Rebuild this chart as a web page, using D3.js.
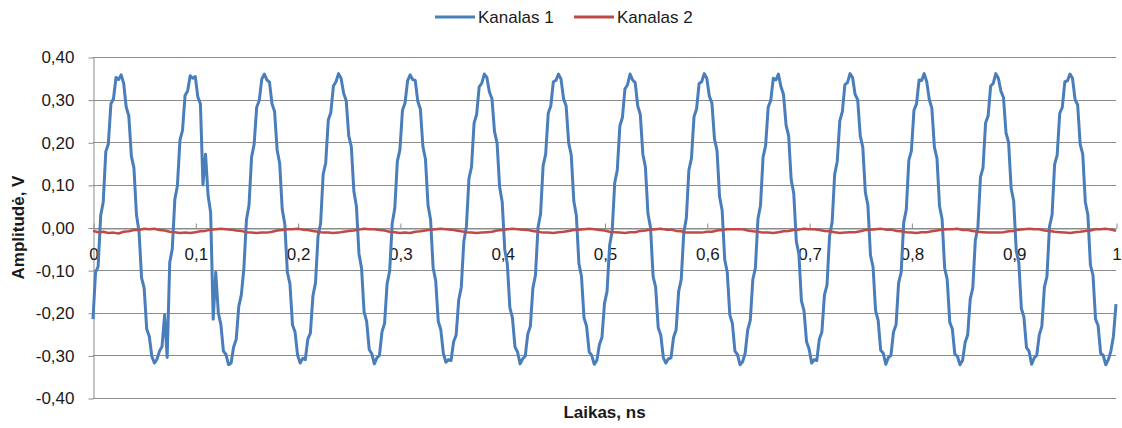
<!DOCTYPE html>
<html>
<head>
<meta charset="utf-8">
<script src="https://cdn.jsdelivr.net/npm/d3@7"></script>
<style>
    body { margin: 0; background: #fff; }
    text { font-family: "Liberation Sans", Arial, sans-serif; fill: #1a1a1a; }
</style>
</head>
<body>
<svg id="chart" width="1122" height="428"></svg>
<script>
// series names and axis ticks
var seriesNames = ["Kanalas 1", "Kanalas 2"];
var xTicks = [0, 0.1, 0.2, 0.3, 0.4, 0.5, 0.6, 0.7, 0.8, 0.9, 1];
var yTicks = [-0.4, -0.3, -0.2, -0.1, 0, 0.1, 0.2, 0.3, 0.4];

var kanalas1Step = 0.0025;
var kanalas1 = [
    -0.215, -0.105, -0.092, 0.028, 0.060, 0.178, 0.196, 0.290, 0.302, 0.352,
    0.347, 0.358, 0.338, 0.282, 0.262, 0.168, 0.140, 0.030, -0.010, -0.118,
    -0.142, -0.238, -0.255, -0.302, -0.318, -0.309, -0.290, -0.279, -0.205, -0.305,
    -0.082, -0.050, 0.066, 0.098, 0.205, 0.228, 0.310, 0.320, 0.356, 0.350,
    0.354, 0.306, 0.290, 0.100, 0.172, 0.075, 0.035, -0.215, -0.105, -0.200,
    -0.228, -0.290, -0.298, -0.322, -0.318, -0.280, -0.262, -0.185, -0.158, -0.095,
    0.018, 0.052, 0.165, 0.195, 0.282, 0.298, 0.348, 0.360, 0.346, 0.341,
    0.290, 0.272, 0.182, 0.150, 0.042, 0.008, -0.105, -0.132, -0.228, -0.245,
    -0.300, -0.318, -0.307, -0.310, -0.262, -0.248, -0.160, -0.130, -0.020, 0.010,
    0.125, 0.152, 0.252, 0.270, 0.332, 0.342, 0.361, 0.350, 0.315, 0.298,
    0.215, 0.190, 0.085, 0.050, -0.062, -0.095, -0.198, -0.220, -0.286, -0.296,
    -0.320, -0.306, -0.300, -0.245, -0.225, -0.132, -0.102, 0.010, 0.045, 0.155,
    0.182, 0.275, 0.292, 0.344, 0.358, 0.347, 0.345, 0.296, 0.278, 0.190,
    0.160, 0.052, 0.018, -0.095, -0.125, -0.220, -0.240, -0.296, -0.316, -0.310,
    -0.312, -0.268, -0.252, -0.170, -0.140, -0.032, 0.002, 0.115, 0.142, 0.245,
    0.265, 0.330, 0.338, 0.360, 0.352, 0.318, 0.302, 0.225, 0.198, 0.095,
    0.060, -0.052, -0.085, -0.188, -0.212, -0.280, -0.292, -0.320, -0.308, -0.302,
    -0.250, -0.232, -0.142, -0.112, 0.000, 0.032, 0.145, 0.172, 0.268, 0.285,
    0.342, 0.345, 0.360, 0.348, 0.302, 0.285, 0.198, 0.170, 0.062, 0.028,
    -0.085, -0.115, -0.212, -0.232, -0.292, -0.300, -0.321, -0.312, -0.275, -0.258,
    -0.178, -0.150, -0.042, -0.008, 0.105, 0.135, 0.238, 0.258, 0.325, 0.335,
    0.360, 0.346, 0.340, 0.285, 0.265, 0.172, 0.142, 0.032, 0.000, -0.115,
    -0.140, -0.235, -0.252, -0.305, -0.318, -0.308, -0.306, -0.258, -0.240, -0.150,
    -0.122, -0.012, 0.022, 0.135, 0.162, 0.260, 0.278, 0.338, 0.342, 0.361,
    0.350, 0.308, 0.292, 0.208, 0.180, 0.072, 0.040, -0.075, -0.105, -0.205,
    -0.225, -0.290, -0.298, -0.322, -0.315, -0.295, -0.240, -0.218, -0.122, -0.095,
    0.020, 0.052, 0.165, 0.192, 0.282, 0.298, 0.350, 0.346, 0.360, 0.330,
    0.312, 0.240, 0.215, 0.112, 0.080, -0.032, -0.062, -0.172, -0.195, -0.268,
    -0.285, -0.318, -0.310, -0.312, -0.262, -0.245, -0.158, -0.135, -0.020, 0.012,
    0.125, 0.155, 0.250, 0.272, 0.335, 0.340, 0.361, 0.352, 0.312, 0.300,
    0.215, 0.188, 0.082, 0.052, -0.065, -0.092, -0.195, -0.218, -0.288, -0.295,
    -0.321, -0.305, -0.300, -0.245, -0.228, -0.130, -0.105, 0.012, 0.042, 0.158,
    0.180, 0.275, 0.290, 0.346, 0.345, 0.361, 0.342, 0.300, 0.280, 0.188,
    0.162, 0.050, 0.020, -0.095, -0.122, -0.222, -0.238, -0.298, -0.302, -0.322,
    -0.312, -0.270, -0.252, -0.168, -0.142, -0.030, 0.000, 0.118, 0.140, 0.245,
    0.262, 0.332, 0.338, 0.361, 0.350, 0.320, 0.305, 0.222, 0.200, 0.092,
    0.062, -0.055, -0.082, -0.190, -0.210, -0.282, -0.290, -0.321, -0.306, -0.300,
    -0.252, -0.232, -0.140, -0.115, 0.002, 0.030, 0.148, 0.170, 0.268, 0.282,
    0.342, 0.344, 0.360, 0.350, 0.300, 0.288, 0.195, 0.172, 0.060, 0.030,
    -0.088, -0.112, -0.215, -0.230, -0.295, -0.300, -0.322, -0.310, -0.290, -0.255,
    -0.180
];

// Kanalas 2, sampled every 0.005 ns
var kanalas2Step = 0.005;
var kanalas2 = [
    -0.008, -0.011, -0.010, -0.013, -0.012, -0.014, -0.010, -0.009, -0.006, -0.006,
    -0.003, -0.004, -0.003, -0.006, -0.007, -0.010, -0.011, -0.013, -0.012, -0.013,
    -0.011, -0.009, -0.008, -0.005, -0.004, -0.003, -0.004, -0.005, -0.007, -0.008,
    -0.011, -0.012, -0.013, -0.012, -0.012, -0.010, -0.007, -0.006, -0.004, -0.004,
    -0.003, -0.005, -0.006, -0.008, -0.010, -0.012, -0.012, -0.013, -0.012, -0.010,
    -0.008, -0.007, -0.005, -0.003, -0.004, -0.004, -0.006, -0.007, -0.010, -0.011,
    -0.013, -0.012, -0.013, -0.010, -0.009, -0.007, -0.005, -0.004, -0.003, -0.004,
    -0.005, -0.007, -0.009, -0.011, -0.012, -0.013, -0.012, -0.011, -0.010, -0.007,
    -0.006, -0.004, -0.003, -0.004, -0.005, -0.006, -0.008, -0.010, -0.012, -0.012,
    -0.013, -0.011, -0.010, -0.008, -0.006, -0.005, -0.004, -0.003, -0.004, -0.006,
    -0.007, -0.010, -0.011, -0.012, -0.013, -0.011, -0.011, -0.008, -0.007, -0.005,
    -0.004, -0.003, -0.005, -0.005, -0.008, -0.009, -0.012, -0.012, -0.012, -0.012,
    -0.010, -0.010, -0.007, -0.006, -0.004, -0.004, -0.004, -0.004, -0.007, -0.009,
    -0.010, -0.012, -0.012, -0.013, -0.011, -0.009, -0.008, -0.006, -0.005, -0.003,
    -0.004, -0.004, -0.006, -0.008, -0.009, -0.011, -0.013, -0.012, -0.011, -0.011,
    -0.009, -0.006, -0.005, -0.004, -0.003, -0.005, -0.005, -0.008, -0.009, -0.011,
    -0.012, -0.013, -0.011, -0.011, -0.009, -0.007, -0.005, -0.004, -0.004, -0.003,
    -0.006, -0.006, -0.008, -0.010, -0.011, -0.012, -0.012, -0.012, -0.011, -0.009,
    -0.008, -0.005, -0.004, -0.003, -0.004, -0.004, -0.007, -0.008, -0.010, -0.011,
    -0.012, -0.013, -0.011, -0.010, -0.008, -0.007, -0.004, -0.004, -0.003, -0.005,
    -0.008
];

var colors = ["#4a7ebb", "#be4b48"];

var svg = d3.select("#chart"),
    margin = { left: 93, right: 6, top: 57, bottom: 30 },
    width = 1122 - margin.left - margin.right,
    height = 428 - margin.top - margin.bottom;

var locale = d3.formatLocale({
    decimal: ",",
    thousands: " ",
    grouping: [3],
    currency: ["", ""],
    minus: "-"
});

var x = d3.scaleLinear().domain([0, 1]).range([margin.left, margin.left + width]);
var y = d3.scaleLinear().domain([-0.4, 0.4]).range([margin.top + height, margin.top]);

// gridlines
svg.append("g")
    .selectAll("line")
    .data(yTicks)
    .enter().append("line")
    .attr("x1", margin.left)
    .attr("x2", margin.left + width)
    .attr("y1", function (d) { return Math.round(y(d)) + 0.5; })
    .attr("y2", function (d) { return Math.round(y(d)) + 0.5; })
    .style("stroke", "#8c8c8c")
    .style("stroke-width", 1);

// y axis
var yAxis = svg.append("g")
    .attr("transform", "translate(" + (margin.left + 0.5) + ",0.5)")
    .call(d3.axisLeft(y)
        .tickValues(yTicks)
        .tickSizeInner(5)
        .tickSizeOuter(0)
        .tickPadding(14)
        .tickFormat(locale.format(".2f")));
yAxis.selectAll("path, line").style("stroke", "#8c8c8c");
yAxis.selectAll("text").style("font-size", "17px").style("fill", "#1a1a1a")
    .attr("font-family", null);

// x axis through zero
var xAxis = svg.append("g")
    .attr("transform", "translate(0.5," + (Math.round(y(0)) + 0.5) + ")")
    .call(d3.axisBottom(x)
        .tickValues(xTicks)
        .tickSizeInner(-5)
        .tickSizeOuter(0)
        .tickPadding(19)
        .tickFormat(locale.format(".1~f")));
xAxis.selectAll("path, line").style("stroke", "#8c8c8c");
xAxis.selectAll("text").style("font-size", "17px").style("fill", "#1a1a1a")
    .attr("font-family", null);

// series
var line1 = d3.line()
    .x(function (d, i) { return x(i * kanalas1Step); })
    .y(function (d) { return y(d); });

var line2 = d3.line()
    .x(function (d, i) { return x(i * kanalas2Step); })
    .y(function (d) { return y(d); });

svg.append("path")
    .datum(kanalas1)
    .attr("d", line1)
    .style("fill", "none")
    .style("stroke", colors[0])
    .style("stroke-width", 3)
    .style("stroke-linejoin", "round");

svg.append("path")
    .datum(kanalas2)
    .attr("d", line2)
    .style("fill", "none")
    .style("stroke", colors[1])
    .style("stroke-width", 2.5)
    .style("stroke-linejoin", "round");

// legend
var legendX = [435, 574];
var legend = svg.append("g")
    .selectAll("g")
    .data(seriesNames)
    .enter().append("g")
    .attr("transform", function (d, i) { return "translate(" + legendX[i] + ",17)"; });

legend.append("line")
    .attr("x1", 0)
    .attr("x2", 40)
    .style("stroke", function (d, i) { return colors[i]; })
    .style("stroke-width", 3);

legend.append("text")
    .attr("x", 43)
    .attr("y", 6)
    .style("font-size", "17px")
    .text(function (d) { return d; });

// axis titles
svg.append("text")
    .attr("transform", "translate(24," + y(0) + ") rotate(-90)")
    .attr("text-anchor", "middle")
    .style("font-size", "17px")
    .style("font-weight", "bold")
    .text("Amplitudė, V");

svg.append("text")
    .attr("x", margin.left + width / 2)
    .attr("y", 418)
    .attr("text-anchor", "middle")
    .style("font-size", "17px")
    .style("font-weight", "bold")
    .text("Laikas, ns");
</script>
</body>
</html>
